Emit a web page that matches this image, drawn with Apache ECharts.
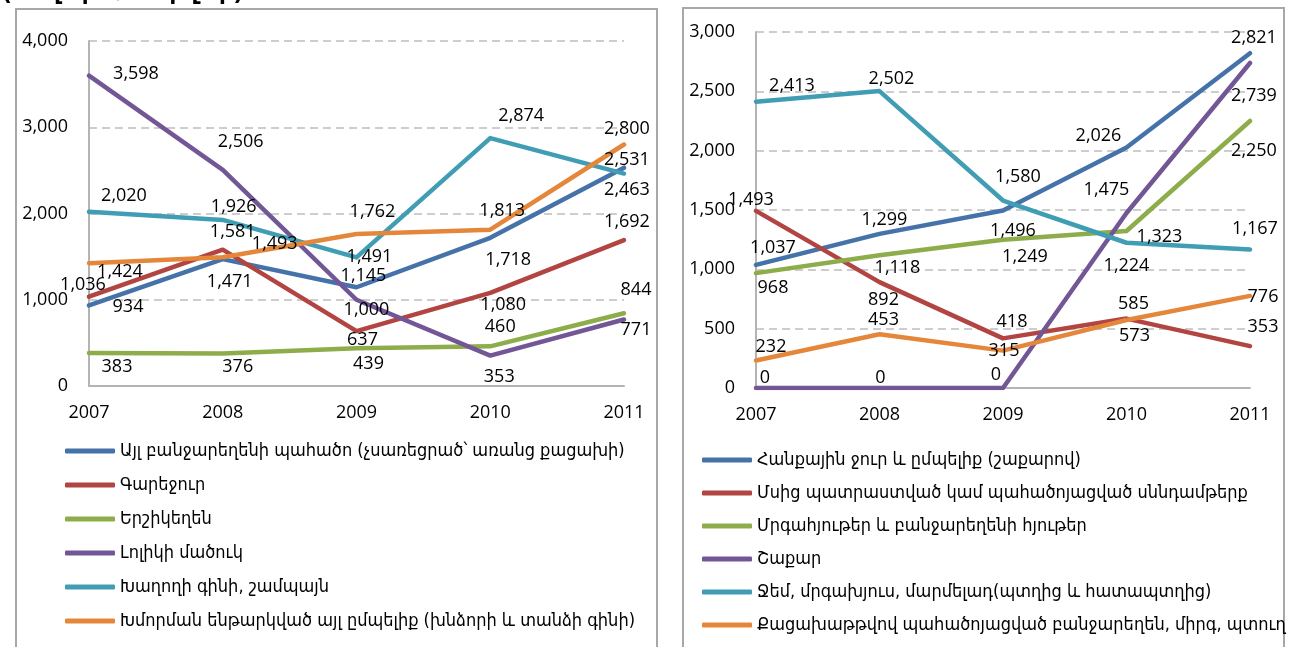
<!DOCTYPE html>
<html>
<head>
<meta charset="utf-8">
<script src="https://cdn.jsdelivr.net/npm/echarts@6/dist/echarts.min.js"></script>
<style>
html,body{margin:0;padding:0;background:#fff;}
#main{width:1289px;height:647px;}
</style>
</head>
<body>
<div id="main"></div>
<script>
// ---------- DATA ----------
const years = ['2007', '2008', '2009', '2010', '2011'];

const leftNames = [
  'Այլ բանջարեղենի պահածո (չսառեցրած՝ առանց քացախի)',
  'Գարեջուր',
  'Երշիկեղեն',
  'Լոլիկի մածուկ',
  'Խաղողի գինի, շամպայն',
  'Խմորման ենթարկված այլ ըմպելիք (խնձորի և տանձի գինի)'
];
const leftOtherVeg   = [934, 1471, 1145, 1718, 2531];
const leftBeer       = [1036, 1581, 637, 1080, 1692];
const leftSausage    = [383, 376, 439, 460, 844];
const leftTomato     = [3598, 2506, 1000, 353, 771];
const leftWine       = [2020, 1926, 1491, 2874, 2463];
const leftCider      = [1424, 1493, 1762, 1813, 2800];

const rightNames = [
  'Հանքային ջուր և ըմպելիք (շաքարով)',
  'Մսից պատրաստված կամ պահածոյացված սննդամթերք',
  'Մրգահյութեր և բանջարեղենի հյութեր',
  'Շաքար',
  'Ջեմ, մրգախյուս, մարմելադ(պտղից և հատապտղից)',
  'Քացախաթթվով պահածոյացված բանջարեղեն, միրգ, պտուղ'
];
const rightWater     = [1037, 1299, 1496, 2026, 2821];
const rightMeat      = [1493, 892, 418, 585, 353];
const rightJuice     = [968, 1118, 1249, 1323, 2250];
const rightSugar     = [0, 0, 0, 1475, 2739];
const rightJam       = [2413, 2502, 1580, 1224, 1167];
const rightPickled   = [232, 453, 315, 573, 776];

const leftTicks  = [0, 1000, 2000, 3000, 4000];
const rightTicks = [0, 500, 1000, 1500, 2000, 2500, 3000];
const unitText = '(հազար ԱՄՆ դոլար)';

// ---------- STYLE ----------
const colors = ['#4672AA', '#B24541', '#8DAD4B', '#735696', '#409DB4', '#E5873B'];
// label offsets [dx, dy] relative to each point
const leftLabelOff = [
  [[39,1],[7,23],[7,-11],[18,22],[3,-8]],
  [[-6,-12],[10,-18],[6,9],[13,12],[3,-18]],
  [[28,14],[15,13],[12,16],[10,-19],[12,-23]],
  [[47,-2],[18,-28],[10,10],[9,21],[12,10]],
  [[35,-16],[11,-13],[13,-1],[31,-22],[3,16]],
  [[31,9],[52,-13],[16,-22],[12,-19],[3,-16]]
];
const rightLabelOff = [
  [[17,-17],[5,-14],[10,20],[-28,-12],[4,-15]],
  [[-5,-11],[4,18],[9,-17],[7,-15],[13,-19]],
  [[17,15],[18,13],[22,17],[33,6],[4,30]],
  [[9,-10],[1,-10],[-7,-13],[-20,-23],[4,33]],
  [[36,-16],[12,-12],[15,-24],[0,23],[5,-21]],
  [[15,-14],[4,-14],[1,0],[8,16],[13,1]]
];

const numFont = 'Open Sans';
const fmt = v => Number(v).toLocaleString('en-US');

function makeSeries(name, values, colorIdx, axisIdx, offs) {
  return {
    name: name,
    type: 'line',
    xAxisIndex: axisIdx,
    yAxisIndex: axisIdx,
    data: values.map((v, i) => ({
      value: v,
      label: { offset: offs[i] }
    })),
    symbol: 'circle',
    symbolSize: 1,
    showSymbol: true,
    color: colors[colorIdx],
    itemStyle: { color: colors[colorIdx] },
    lineStyle: { width: 4.5, color: colors[colorIdx], cap: 'round', join: 'round' },
    label: {
      show: true,
      position: 'inside',
      color: '#000',
      fontFamily: numFont,
      fontSize: 18,
      formatter: p => fmt(p.value)
    },
    emphasis: { disabled: true },
    animation: false,
    z: 2
  };
}

const leftData = [leftOtherVeg, leftBeer, leftSausage, leftTomato, leftWine, leftCider];
const rightData = [rightWater, rightMeat, rightJuice, rightSugar, rightJam, rightPickled];

const series = [];
leftData.forEach((d, i) => series.push(makeSeries(leftNames[i], d, i, 0, leftLabelOff[i])));
rightData.forEach((d, i) => series.push(makeSeries(rightNames[i], d, i, 1, rightLabelOff[i])));

function xAxis(gridIndex) {
  return {
    type: 'category',
    gridIndex: gridIndex,
    data: years,
    boundaryGap: false,
    axisLine: { show: true, lineStyle: { color: '#b4b4b4', width: 2 } },
    axisTick: { show: false },
    axisLabel: { color: '#000', fontFamily: numFont, fontSize: 18, margin: 18 },
    splitLine: { show: false }
  };
}
function yAxis(gridIndex, ticks) {
  return {
    type: 'value',
    gridIndex: gridIndex,
    min: ticks[0],
    max: ticks[ticks.length - 1],
    interval: ticks[1] - ticks[0],
    axisLine: { show: true, lineStyle: { color: '#b4b4b4', width: 2 } },
    axisTick: { show: false },
    axisLabel: { color: '#000', fontFamily: numFont, fontSize: 18, margin: 21, formatter: v => fmt(v) },
    splitLine: { show: true, lineStyle: { color: '#bdbdbd', width: 1.5, type: [8, 5] } }
  };
}

const legendCommon = {
  orient: 'vertical',
  icon: 'roundRect',
  itemWidth: 50,
  itemHeight: 5,
  selectedMode: false,
  textStyle: { color: '#000', fontFamily: 'DejaVu Sans Condensed', fontSize: 18, lineHeight: 20 }
};

const option = {
  backgroundColor: '#fff',
  animation: false,
  grid: [
    { left: 89, top: 41, width: 535, height: 345 },
    { left: 756, top: 32, width: 494, height: 356 }
  ],
  xAxis: [xAxis(0), xAxis(1)],
  yAxis: [yAxis(0, leftTicks), yAxis(1, rightTicks)],
  legend: [
    Object.assign({}, legendCommon, { data: leftNames, left: 60, top: 436, itemGap: 14 }),
    Object.assign({}, legendCommon, { data: rightNames, left: 697, top: 445, itemGap: 13 })
  ],
  graphic: [
    { type: 'rect', shape: { x: 16, y: 9, width: 641, height: 700 }, style: { fill: 'none', stroke: '#a8a8a8', lineWidth: 2 }, silent: true, z: -1 },
    { type: 'rect', shape: { x: 683, y: 8, width: 601, height: 700 }, style: { fill: 'none', stroke: '#a8a8a8', lineWidth: 2 }, silent: true, z: -1 },
    { type: 'text', left: 2, top: -17, style: { text: unitText, fill: '#000', font: 'bold 22px "DejaVu Sans"' }, silent: true }
  ],
  series: series
};

const chart = echarts.init(document.getElementById('main'), null, { renderer: 'canvas' });
chart.setOption(option);
</script>
</body>
</html>
